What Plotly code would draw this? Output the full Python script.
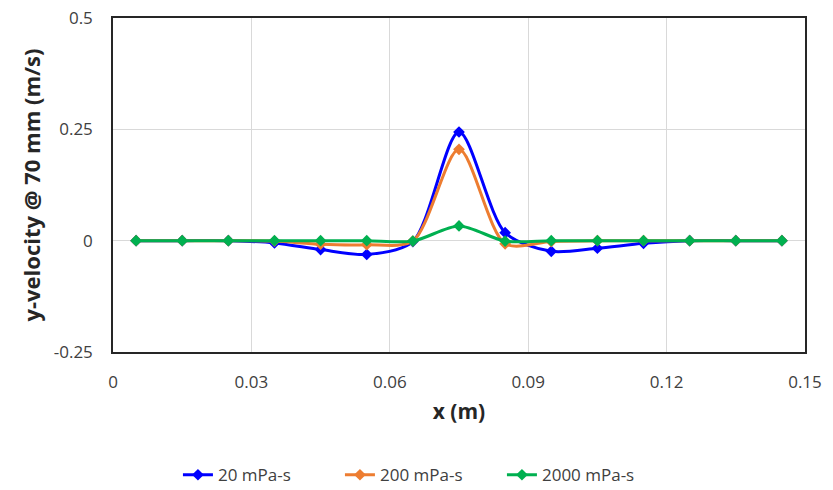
import plotly.graph_objects as go

x_m = [0.005, 0.015, 0.025, 0.035, 0.045, 0.055, 0.065, 0.075, 0.085, 0.095, 0.105, 0.115, 0.125, 0.135, 0.145]
v_20 = [0.0, 0.0, 0.0, -0.005, -0.02, -0.031, -0.002, 0.244, 0.018, -0.024, -0.017, -0.006, 0.0, 0.0, 0.0]
v_200 = [0.0, 0.0, 0.0, -0.001, -0.008, -0.009, -0.001, 0.205, -0.007, -0.002, 0.0, 0.0, 0.0, 0.0, 0.0]
v_2000 = [0.0, 0.0, 0.0, 0.0, 0.0, 0.0, -0.001, 0.033, -0.001, 0.0, 0.0, 0.0, 0.0, 0.0, 0.0]
series_names = ["20 mPa-s", "200 mPa-s", "2000 mPa-s"]
series_colors = ["#0000FF", "#ED7D31", "#00B050"]

x_ticks = [0, 0.03, 0.06, 0.09, 0.12, 0.15]
x_ticklabels = ["0", "0.03", "0.06", "0.09", "0.12", "0.15"]
y_ticks = [-0.25, 0, 0.25, 0.5]
y_ticklabels = ["-0.25", "0", "0.25", "0.5"]

fig = go.Figure()
for name, vals, col in zip(series_names, [v_20, v_200, v_2000], series_colors):
    fig.add_trace(go.Scatter(
        x=x_m, y=vals, name=name, mode="lines+markers",
        line=dict(color=col, width=3, shape="spline", smoothing=0.8),
        marker=dict(symbol="diamond", size=9, color=col),
    ))

font_family = "Open Sans, DejaVu Sans, sans-serif"
fig.update_layout(
    width=833, height=490,
    margin=dict(l=113, r=28, t=18, b=138, autoexpand=False),
    paper_bgcolor="white", plot_bgcolor="white",
    font=dict(family=font_family, color="#404040", size=17),
    showlegend=True,
    legend=dict(orientation="h", x=0.445, xanchor="center", y=-0.315, yanchor="top",
                font=dict(size=17, color="#404040"), tracegroupgap=0,
                entrywidth=117),
    xaxis=dict(
        range=[0, 0.15], tickvals=x_ticks, ticktext=x_ticklabels,
        showgrid=True, gridcolor="#D9D9D9", gridwidth=1,
        showline=True, linecolor="#262626", linewidth=1.5, mirror=True,
        zeroline=False, ticks="outside", ticklen=14, tickcolor="rgba(0,0,0,0)",
        automargin=False, ticklabeloverflow="allow",
        title=dict(text="<b>x (m)</b>", font=dict(size=21, color="#262626"), standoff=12),
    ),
    yaxis=dict(
        range=[-0.25, 0.5], tickvals=y_ticks, ticktext=y_ticklabels,
        showgrid=True, gridcolor="#D9D9D9", gridwidth=1,
        showline=True, linecolor="#262626", linewidth=1.5, mirror=True,
        zeroline=False, ticks="outside", ticklen=15, tickcolor="rgba(0,0,0,0)",
        automargin=False, ticklabeloverflow="allow",
        title=dict(text="<b>y-velocity @ 70 mm (m/s)</b>", font=dict(size=22, color="#262626"), standoff=7),
    ),
)

fig.write_html("out.html", config={"displayModeBar": False},
               post_script="document.body.style.margin='0';")
